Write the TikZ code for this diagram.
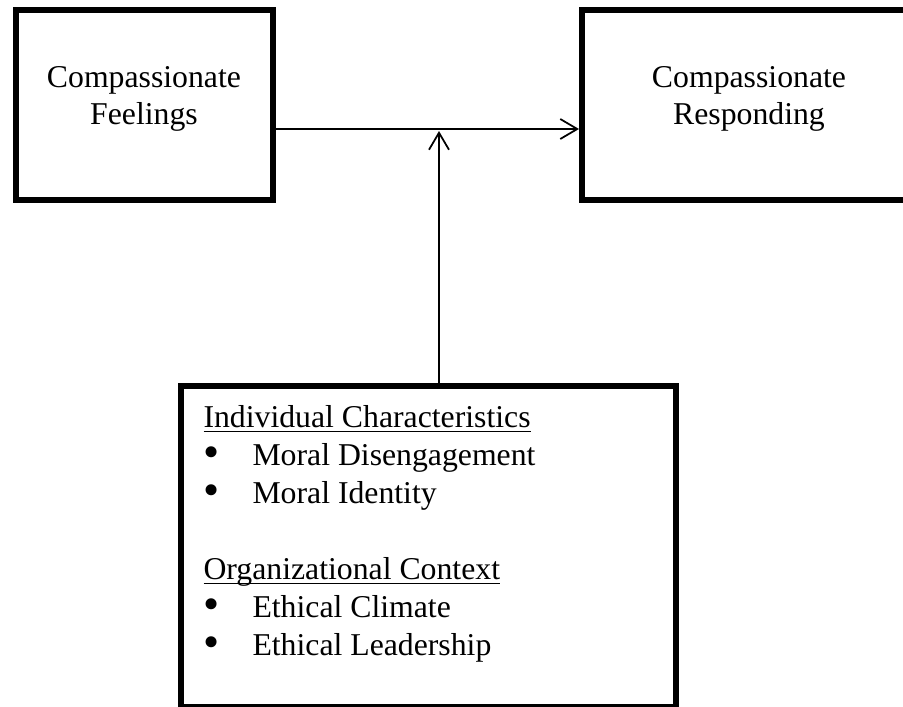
\documentclass[tikz,border=0pt]{standalone}
\usepackage{fontspec}
\setmainfont{Liberation Serif}
\usetikzlibrary{arrows.meta}

\newcommand\ulin[1]{\setbox0\hbox{#1}\rlap{\rule[-2.1pt]{\wd0}{0.7pt}}\box0}
\newcommand\bul{\makebox[19.6pt][l]{\raisebox{-0.9pt}{\scalebox{1.45}{\textbullet}}}}

\tikzset{
  box/.style={draw, line width=2.4pt},
  txt/.style={inner sep=0pt, align=center, font=\fontsize{12.7pt}{14.6pt}\selectfont},
  listtxt/.style={inner sep=0pt, align=left, font=\fontsize{12.7pt}{15.2pt}\selectfont},
  arr/.style={-{Straight Barb[length=6.8pt,width=8pt]}, line width=0.7pt},
}

\begin{document}
\begin{tikzpicture}[x=0.4pt,y=-0.4pt]
  \clip (0,0) rectangle (903,707);
  % boxes
  \node[box, minimum width=102.8pt, minimum height=76pt] (feel) at (144.5,105) {};
  \node[box, minimum width=133.6pt, minimum height=76pt] (resp) at (749,105) {};
  \node[box, minimum width=198pt, minimum height=128.4pt] (ctx) at (428.5,546.5) {};
  % texts (base = last line)
  \node[txt, anchor=base] (feeltxt) at (144,124) {Compassionate\\Feelings};
  \node[txt, anchor=base] (resptxt) at (749,124) {Compassionate\\Responding};
  \node[listtxt, anchor=base west] (ctxtxt) at (203,655) {\ulin{Individual Characteristics}\\
    \bul Moral Disengagement\\
    \bul Moral Identity\\[15.2pt]
    \ulin{Organizational Context}\\
    \bul Ethical Climate\\
    \bul Ethical Leadership};
  \coordinate (mod) at (439,129);

  \path[arr] (feel.east |- mod) edge (resp.west |- mod);
  \path[arr, shorten >=0.8pt] (ctx.north -| mod) edge (mod);
\end{tikzpicture}
\end{document}
